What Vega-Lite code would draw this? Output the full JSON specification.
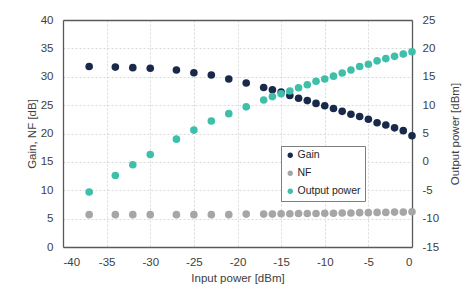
{
  "$schema": "https://vega.github.io/schema/vega-lite/v6.json",
  "width": 349,
  "height": 227,
  "padding": {"left": 63, "top": 20, "right": 50, "bottom": 46},
  "autosize": {"type": "none"},
  "background": "white",
  "config": {
    "font": "Liberation Sans",
    "view": {"stroke": null},
    "axis": {
      "labelFont": "Liberation Sans",
      "titleFont": "Liberation Sans",
      "labelFontSize": 11.5,
      "titleFontSize": 11.5,
      "labelColor": "#404040",
      "titleColor": "#404040",
      "titleFontWeight": "normal",
      "ticks": false,
      "domain": true,
      "domainColor": "#595959",
      "domainWidth": 1.3,
      "gridColor": "#d9d9d9",
      "gridDash": [2, 2],
      "gridWidth": 1,
      "labelExpr": "datum.value < 0 ? '-' + abs(datum.value) : '' + datum.value"
    },
    "legend": {
      "labelFont": "Liberation Sans",
      "labelFontSize": 10.5,
      "labelColor": "#262626"
    }
  },
  "data": {
    "values": [
      {"x": -37, "s": "Gain", "v": 31.8},
      {"x": -34, "s": "Gain", "v": 31.7},
      {"x": -32, "s": "Gain", "v": 31.6},
      {"x": -30, "s": "Gain", "v": 31.5},
      {"x": -27, "s": "Gain", "v": 31.2},
      {"x": -25, "s": "Gain", "v": 30.7},
      {"x": -23, "s": "Gain", "v": 30.3},
      {"x": -21, "s": "Gain", "v": 29.6},
      {"x": -19, "s": "Gain", "v": 28.9},
      {"x": -17, "s": "Gain", "v": 28.1},
      {"x": -16, "s": "Gain", "v": 27.7},
      {"x": -15, "s": "Gain", "v": 27.3},
      {"x": -14, "s": "Gain", "v": 26.7},
      {"x": -13, "s": "Gain", "v": 26.2},
      {"x": -12, "s": "Gain", "v": 25.8},
      {"x": -11, "s": "Gain", "v": 25.3},
      {"x": -10, "s": "Gain", "v": 24.9},
      {"x": -9, "s": "Gain", "v": 24.4},
      {"x": -8, "s": "Gain", "v": 23.9},
      {"x": -7, "s": "Gain", "v": 23.4},
      {"x": -6, "s": "Gain", "v": 23.0},
      {"x": -5, "s": "Gain", "v": 22.5},
      {"x": -4, "s": "Gain", "v": 21.9},
      {"x": -3, "s": "Gain", "v": 21.5},
      {"x": -2, "s": "Gain", "v": 21.0},
      {"x": -1, "s": "Gain", "v": 20.5},
      {"x": 0, "s": "Gain", "v": 19.6},
      {"x": -37, "s": "NF", "v": 5.7},
      {"x": -34, "s": "NF", "v": 5.7},
      {"x": -32, "s": "NF", "v": 5.7},
      {"x": -30, "s": "NF", "v": 5.7},
      {"x": -27, "s": "NF", "v": 5.7},
      {"x": -25, "s": "NF", "v": 5.7},
      {"x": -23, "s": "NF", "v": 5.7},
      {"x": -21, "s": "NF", "v": 5.7},
      {"x": -19, "s": "NF", "v": 5.8},
      {"x": -17, "s": "NF", "v": 5.8},
      {"x": -16, "s": "NF", "v": 5.8},
      {"x": -15, "s": "NF", "v": 5.85},
      {"x": -14, "s": "NF", "v": 5.85},
      {"x": -13, "s": "NF", "v": 5.9},
      {"x": -12, "s": "NF", "v": 5.9},
      {"x": -11, "s": "NF", "v": 5.9},
      {"x": -10, "s": "NF", "v": 5.95},
      {"x": -9, "s": "NF", "v": 5.95},
      {"x": -8, "s": "NF", "v": 6.0},
      {"x": -7, "s": "NF", "v": 6.0},
      {"x": -6, "s": "NF", "v": 6.05},
      {"x": -5, "s": "NF", "v": 6.05},
      {"x": -4, "s": "NF", "v": 6.1},
      {"x": -3, "s": "NF", "v": 6.1},
      {"x": -2, "s": "NF", "v": 6.15},
      {"x": -1, "s": "NF", "v": 6.15},
      {"x": 0, "s": "NF", "v": 6.2},
      {"x": -37, "s": "Output power", "v": -5.3},
      {"x": -34, "s": "Output power", "v": -2.4},
      {"x": -32, "s": "Output power", "v": -0.5},
      {"x": -30, "s": "Output power", "v": 1.3},
      {"x": -27, "s": "Output power", "v": 4.0},
      {"x": -25, "s": "Output power", "v": 5.6},
      {"x": -23, "s": "Output power", "v": 7.2},
      {"x": -21, "s": "Output power", "v": 8.5},
      {"x": -19, "s": "Output power", "v": 9.7},
      {"x": -17, "s": "Output power", "v": 10.9},
      {"x": -16, "s": "Output power", "v": 11.5},
      {"x": -15, "s": "Output power", "v": 12.0},
      {"x": -14, "s": "Output power", "v": 12.5},
      {"x": -13, "s": "Output power", "v": 13.05},
      {"x": -12, "s": "Output power", "v": 13.6},
      {"x": -11, "s": "Output power", "v": 14.2},
      {"x": -10, "s": "Output power", "v": 14.6},
      {"x": -9, "s": "Output power", "v": 15.1},
      {"x": -8, "s": "Output power", "v": 15.65},
      {"x": -7, "s": "Output power", "v": 16.2},
      {"x": -6, "s": "Output power", "v": 16.8},
      {"x": -5, "s": "Output power", "v": 17.2},
      {"x": -4, "s": "Output power", "v": 17.8},
      {"x": -3, "s": "Output power", "v": 18.2},
      {"x": -2, "s": "Output power", "v": 18.6},
      {"x": -1, "s": "Output power", "v": 19.0},
      {"x": 0, "s": "Output power", "v": 19.4}
    ]
  },
  "encoding": {
    "color": {
      "field": "s",
      "type": "nominal",
      "scale": {
        "domain": ["Gain", "NF", "Output power"],
        "range": ["#18294a", "#a6a6a6", "#3dbfaa"]
      },
      "legend": {
        "title": null,
        "orient": "none",
        "legendX": 218,
        "legendY": 126,
        "fillColor": "white",
        "strokeColor": "#7f7f7f",
        "padding": 4,
        "symbolType": "circle",
        "symbolSize": 28,
        "symbolStrokeWidth": 0,
        "labelOffset": 2,
        "rowPadding": 7,
        "labelExpr": "datum.label"
      }
    }
  },
  "layer": [
    {
      "transform": [{"filter": "datum.s !== 'Output power'"}],
      "mark": {"type": "circle", "size": 58, "opacity": 1},
      "encoding": {
        "x": {
          "field": "x",
          "type": "quantitative",
          "scale": {"domain": [-40, 0], "nice": false},
          "axis": {
            "orient": "bottom",
            "values": [-40, -35, -30, -25, -20, -15, -10, -5, 0],
            "title": "Input power [dBm]",
            "labelPadding": 9,
            "titleY": 31.5,
            "titleBaseline": "middle"
          }
        },
        "y": {
          "field": "v",
          "type": "quantitative",
          "scale": {"domain": [0, 40], "nice": false},
          "axis": {
            "orient": "left",
            "values": [0, 5, 10, 15, 20, 25, 30, 35, 40],
            "title": "Gain, NF [dB]",
            "labelPadding": 10,
            "titleX": -31,
            "titleY": 113.5,
            "titleAngle": -90,
            "titleAlign": "center",
            "titleBaseline": "middle"
          }
        }
      }
    },
    {
      "transform": [{"filter": "datum.s === 'Output power'"}],
      "mark": {"type": "circle", "size": 58, "opacity": 1},
      "encoding": {
        "x": {
          "field": "x",
          "type": "quantitative",
          "axis": {
            "orient": "top",
            "values": [-40, 0],
            "labels": false,
            "grid": false,
            "title": null
          }
        },
        "y": {
          "field": "v",
          "type": "quantitative",
          "scale": {"domain": [-15, 25], "nice": false},
          "axis": {
            "orient": "right",
            "values": [-15, -10, -5, 0, 5, 10, 15, 20, 25],
            "grid": false,
            "title": "Output power [dBm]",
            "labelPadding": 10,
            "titleX": 43,
            "titleY": 113.5,
            "titleAngle": -90,
            "titleAlign": "center",
            "titleBaseline": "middle"
          }
        }
      }
    }
  ],
  "resolve": {"scale": {"y": "independent"}, "axis": {"x": "independent"}}
}
